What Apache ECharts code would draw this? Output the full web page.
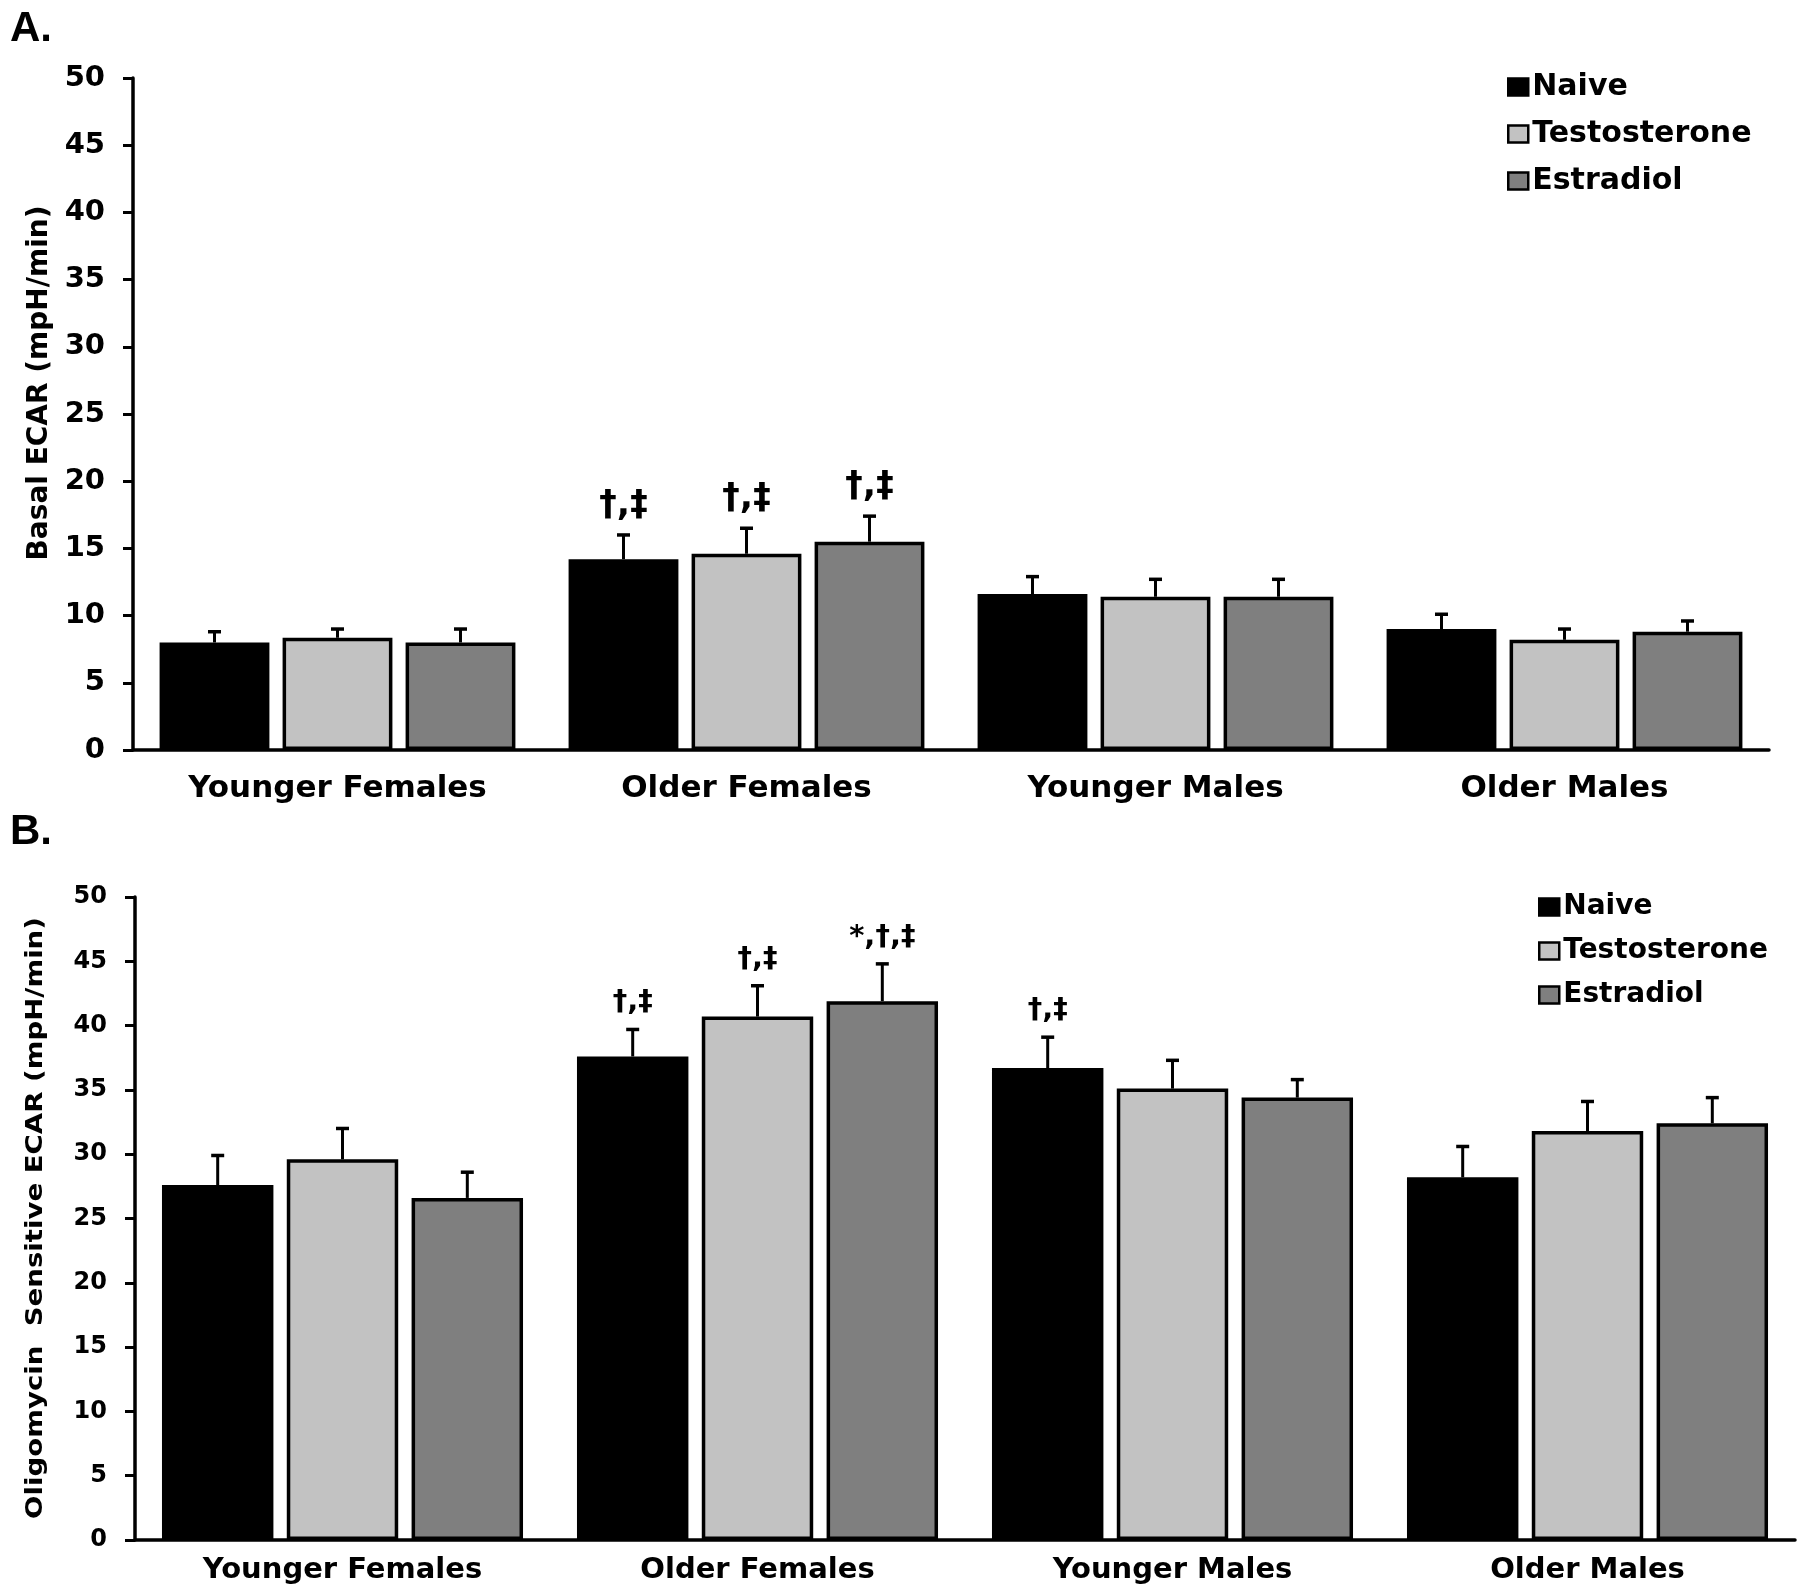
<!DOCTYPE html>
<html>
<head>
<meta charset="utf-8">
<script src="https://cdn.jsdelivr.net/npm/echarts@6/dist/echarts.min.js"></script>
<style>html,body{margin:0;padding:0;background:#fff}#c{width:1800px;height:1594px}</style>
</head>
<body>
<div id="c"></div>
<script>
// ---- data ----
const categories = ['Younger Females', 'Older Females', 'Younger Males', 'Older Males'];
const seriesNames = ['Naive', 'Testosterone', 'Estradiol'];
const yTicks = [0, 5, 10, 15, 20, 25, 30, 35, 40, 45, 50];

// Panel A: Basal ECAR (mpH/min)
const basalNaive = [8.0, 14.2, 11.6, 9.0];
const basalTestosterone = [8.35, 14.6, 11.4, 8.2];
const basalEstradiol = [8.0, 15.5, 11.4, 8.8];
const basalNaiveErr = [0.8, 1.8, 1.3, 1.1];
const basalTestosteroneErr = [0.65, 1.9, 1.3, 0.8];
const basalEstradiolErr = [1.0, 1.9, 1.3, 0.8];
const basalNaiveNote = ['', '†,‡', '', ''];
const basalTestosteroneNote = ['', '†,‡', '', ''];
const basalEstradiolNote = ['', '†,‡', '', ''];

// Panel B: Oligomycin Sensitive ECAR (mpH/min)
const oligoNaive = [27.6, 37.6, 36.7, 28.2];
const oligoTestosterone = [29.6, 40.7, 35.1, 31.8];
const oligoEstradiol = [26.6, 41.9, 34.4, 32.4];
const oligoNaiveErr = [2.3, 2.1, 2.4, 2.4];
const oligoTestosteroneErr = [2.4, 2.4, 2.2, 2.3];
const oligoEstradiolErr = [2.0, 2.9, 1.4, 2.0];
const oligoNaiveNote = ['', '†,‡', '†,‡', ''];
const oligoTestosteroneNote = ['', '†,‡', '', ''];
const oligoEstradiolNote = ['', '*,†,‡', '', ''];

const colors = ['#000000', '#c2c2c2', '#7f7f7f'];
const CAT_GAP = 0.13, BAR_GAP = 0.12;
const FONT = '"DejaVu Sans", "Liberation Sans", Arial, sans-serif';

function barSeries(g, idx, vals) {
  return {
    type: 'bar', name: seriesNames[idx], xAxisIndex: g, yAxisIndex: g, data: vals,
    barCategoryGap: (CAT_GAP * 100) + '%', barGap: (BAR_GAP * 100) + '%',
    itemStyle: { color: colors[idx], borderColor: '#000', borderWidth: 3.5 },
    silent: true, animation: false
  };
}
function errSeries(g, idx, vals, errs, notes, fs, noteGap) {
  return {
    type: 'custom', name: 'err' + g + idx, xAxisIndex: g, yAxisIndex: g,
    data: vals.map((v, i) => [i, v, v + errs[i]]),
    encode: { x: 0, y: [1, 2] }, z: 10, silent: true, animation: false,
    renderItem: function (params, api) {
      const i = api.value(0);
      const band = api.size([1, 0])[0];
      const bw = band * (1 - CAT_GAP) / (3 + 2 * BAR_GAP);
      const off = (idx - 1) * bw * (1 + BAR_GAP);
      const p0 = api.coord([i, api.value(1)]);
      const p1 = api.coord([i, api.value(2)]);
      const x = p0[0] + off;
      const children = [
        { type: 'line', shape: { x1: x, y1: p0[1], x2: x, y2: p1[1] }, style: { stroke: '#000', lineWidth: 3 } },
        { type: 'line', shape: { x1: x - 6.5, y1: p1[1], x2: x + 6.5, y2: p1[1] }, style: { stroke: '#000', lineWidth: 3.5 } }
      ];
      const note = notes[params.dataIndex];
      if (note) {
        children.push({ type: 'text', x: x, y: p1[1] - noteGap,
          style: { text: note, font: 'bold ' + fs + 'px ' + FONT, fill: '#000', textAlign: 'center', textVerticalAlign: 'bottom' } });
      }
      return { type: 'group', children: children };
    }
  };
}
function xAx(g, fs, margin) {
  return {
    type: 'category', gridIndex: g, data: categories,
    axisLine: { lineStyle: { color: '#000', width: 3.5 } },
    axisTick: { show: false },
    axisLabel: { color: '#000', fontFamily: FONT, fontWeight: 'bold', fontSize: fs, margin: margin, interval: 0 }
  };
}
function yAx(g, fs, margin) {
  return {
    type: 'value', gridIndex: g, min: yTicks[0], max: yTicks[yTicks.length - 1], interval: yTicks[1] - yTicks[0],
    axisLine: { show: true, lineStyle: { color: '#000', width: 3.5 } },
    axisTick: { show: true, length: 10, lineStyle: { color: '#000', width: 3 } },
    splitLine: { show: false },
    axisLabel: { color: '#000', fontFamily: FONT, fontWeight: 'bold', fontSize: fs, margin: margin }
  };
}
function legend(left, top, fs, gap) {
  return {
    data: seriesNames, orient: 'vertical', left: left, top: top, icon: 'rect',
    itemWidth: 20, itemHeight: 17, itemGap: gap, selectedMode: false,
    itemStyle: { borderColor: '#000', borderWidth: 2.5 },
    textStyle: { color: '#000', fontFamily: FONT, fontWeight: 'bold', fontSize: fs, padding: [0, 0, 0, -1] }
  };
}

const chart = echarts.init(document.getElementById('c'), null, { renderer: 'canvas' });
chart.setOption({
  animation: false,
  backgroundColor: '#fff',
  grid: [
    { left: 133, top: 78, width: 1636, height: 672 },
    { left: 135, top: 897, width: 1660, height: 643 }
  ],
  xAxis: [xAx(0, 31, 23), xAx(1, 29, 16)],
  yAxis: [yAx(0, 29, 28), yAx(1, 24, 28)],
  legend: [legend(1502, 67, 30, 17), legend(1533, 888, 28, 16)],
  graphic: [
    { type: 'text', left: 10, top: 8, style: { text: 'A.', font: 'bold 42px "Liberation Sans", Arial, sans-serif', fill: '#000' } },
    { type: 'text', left: 10, top: 811, style: { text: 'B.', font: 'bold 42px "Liberation Sans", Arial, sans-serif', fill: '#000' } },
    { type: 'text', x: 40, y: 383, rotation: Math.PI / 2,
      style: { text: 'Basal ECAR (mpH/min)', font: 'bold 28px ' + FONT, fill: '#000', textAlign: 'center', textVerticalAlign: 'middle' } },
    { type: 'text', x: 36, y: 1218, rotation: Math.PI / 2, scaleX: 1.2,
      style: { text: 'Oligomycin  Sensitive ECAR (mpH/min)', font: 'bold 23px ' + FONT, fill: '#000', textAlign: 'center', textVerticalAlign: 'middle' } }
  ],
  series: [
    barSeries(0, 0, basalNaive), barSeries(0, 1, basalTestosterone), barSeries(0, 2, basalEstradiol),
    errSeries(0, 0, basalNaive, basalNaiveErr, basalNaiveNote, 35, 12),
    errSeries(0, 1, basalTestosterone, basalTestosteroneErr, basalTestosteroneNote, 35, 12),
    errSeries(0, 2, basalEstradiol, basalEstradiolErr, basalEstradiolNote, 35, 12),
    barSeries(1, 0, oligoNaive), barSeries(1, 1, oligoTestosterone), barSeries(1, 2, oligoEstradiol),
    errSeries(1, 0, oligoNaive, oligoNaiveErr, oligoNaiveNote, 29, 12),
    errSeries(1, 1, oligoTestosterone, oligoTestosteroneErr, oligoTestosteroneNote, 29, 12),
    errSeries(1, 2, oligoEstradiol, oligoEstradiolErr, oligoEstradiolNote, 29, 12)
  ]
});
</script>
</body>
</html>
